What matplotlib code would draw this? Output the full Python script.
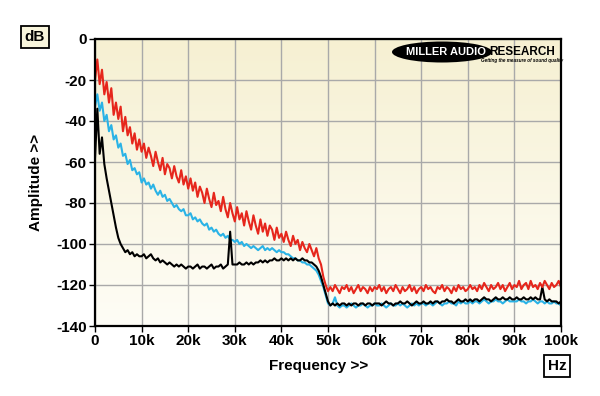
import numpy as np
import matplotlib
matplotlib.use('Agg')
import matplotlib.pyplot as plt
from matplotlib.patches import Ellipse

plt.rcParams['font.family'] = ['Liberation Sans', 'DejaVu Sans']

# frequency grid of the analyser trace, kHz (0.5k steps)
freq_k = np.arange(0, 100.5, 0.5)

red = [
    -20, -10, -22, -15, -27, -21, -31, -24, -37, -31, -39, -33, -45, -38, -47, -43, -51, -46, -54, -49, -55,
    -51, -58, -53, -57, -62, -55, -60, -64, -58, -66, -61, -63, -68, -62, -67, -70, -64, -71, -67, -73,
    -68, -74, -70, -77, -72, -75, -80, -73, -78, -82, -75, -81, -79, -84, -77, -83, -87, -80, -85, -89,
    -82, -88, -85, -91, -84, -89, -93, -86, -91, -95, -88, -94, -90, -96, -91, -93, -98, -92, -97, -95,
    -99, -94, -98, -101, -96, -100, -98, -103, -99, -102, -104, -100, -103, -106, -102, -107, -110, -116, -120, -123,
    -121, -123, -120, -122, -124, -121, -122, -120, -123, -121, -124, -122, -120, -123, -121, -122, -124, -121, -123, -121,
    -122, -120, -123, -121, -124, -122, -121, -123, -120, -122, -124, -121, -123, -122, -120, -123, -121, -124, -122, -121,
    -123, -120, -122, -121, -123, -124, -121, -122, -120, -123, -121, -122, -124, -121, -123, -120, -122, -121, -123, -122,
    -120, -122, -121, -123, -120, -122, -119, -121, -123, -120, -122, -121, -119, -122, -120, -123, -121, -119, -122, -120,
    -121, -118, -122, -120, -119, -122, -118, -121, -120, -122, -119, -121, -118, -120, -122, -119, -121, -120, -118, -121,
]

cyan = [
    -33, -27, -35, -31, -40, -37, -45, -42, -49, -47, -53, -51, -57, -56, -61, -59, -64, -63, -66, -65, -70,
    -68, -71, -70, -73, -71, -74, -76, -74, -77, -76, -79, -78, -80, -82, -81, -83, -84, -83, -86, -86,
    -85, -88, -87, -89, -88, -90, -91, -90, -93, -92, -94, -93, -95, -96, -95, -97, -96, -98, -98, -99,
    -98, -100, -99, -101, -100, -101, -102, -101, -102, -103, -102, -101, -103, -102, -103, -102, -103, -104, -103, -104,
    -104, -105, -105, -106, -107, -107, -108, -108, -109, -109, -110, -110, -111, -112, -113, -115, -118, -121, -125, -129,
    -130, -129, -126, -130, -131, -130, -130, -131, -130, -129, -130, -131, -130, -130, -129, -130, -131, -130, -130, -129,
    -130, -130, -129, -130, -131, -130, -129, -130, -130, -129, -130, -129, -130, -131, -130, -129, -130, -129, -130, -129,
    -129, -130, -129, -129, -130, -129, -128, -129, -130, -129, -129, -128, -129, -129, -130, -128, -129, -128, -129, -129,
    -128, -129, -128, -128, -129, -128, -127, -128, -129, -128, -128, -127, -128, -128, -129, -128, -127, -128, -128, -128,
    -128, -127, -128, -128, -129, -128, -128, -127, -128, -129, -128, -128, -129, -128, -129, -129, -128, -129, -129, -130,
]

black = [
    -58, -34, -56, -48, -61, -68, -74, -80, -86, -92, -97, -100, -102, -104, -103, -105, -104, -106, -105, -106, -106,
    -105, -107, -106, -105, -107, -108, -107, -109, -108, -109, -110, -109, -110, -111, -110, -111, -110, -111, -112, -111,
    -111, -112, -111, -110, -112, -111, -111, -112, -111, -110, -112, -111, -111, -110, -112, -111, -110, -94, -110, -110,
    -110, -109, -110, -110, -109, -110, -109, -110, -109, -109, -108, -109, -108, -109, -108, -108, -107, -108, -108, -107,
    -108, -107, -108, -107, -108, -107, -108, -108, -107, -108, -108, -109, -109, -110, -111, -113, -116, -120, -124, -128,
    -130, -129, -130, -129, -130, -129, -129, -130, -129, -130, -129, -129, -130, -129, -129, -130, -129, -129, -130, -129,
    -129, -129, -130, -129, -128, -129, -129, -130, -129, -129, -128, -129, -129, -128, -129, -130, -129, -128, -129, -129,
    -128, -129, -129, -128, -129, -128, -128, -129, -128, -128, -127, -128, -128, -129, -128, -127, -128, -128, -127, -128,
    -127, -128, -127, -127, -128, -127, -126, -127, -127, -128, -127, -126, -127, -127, -126, -127, -127, -126, -127, -127,
    -126, -127, -127, -126, -127, -127, -126, -127, -126, -127, -127, -121, -127, -128, -127, -128, -128, -128, -129, -128,
]

x_ticks = [0, 10, 20, 30, 40, 50, 60, 70, 80, 90, 100]
x_labels = ['0', '10k', '20k', '30k', '40k', '50k', '60k', '70k', '80k', '90k', '100k']
y_ticks = [0, -20, -40, -60, -80, -100, -120, -140]
y_labels = ['0', '-20', '-40', '-60', '-80', '-100', '-120', '-140']

fig = plt.figure(figsize=(6, 3.96), dpi=100)
fig.patch.set_facecolor('white')
ax = fig.add_axes([95 / 600, 70 / 396, 466 / 600, 287 / 396])

# cream gradient behind the plot
grad = np.linspace(0, 1, 256).reshape(-1, 1)
top_c = np.array([246, 240, 210]) / 255
bot_c = np.array([254, 253, 246]) / 255
img = top_c * (1 - grad[..., None]) + bot_c * grad[..., None]
img = np.repeat(img, 2, axis=1)
ax.imshow(img, extent=[0, 100, -140, 0], aspect='auto', zorder=0)

ax.plot(freq_k, cyan, color='#2ab3e6', lw=1.5, zorder=3)
ax.plot(freq_k, black, color='black', lw=1.5, zorder=4)
ax.plot(freq_k, red, color='#e6261c', lw=1.5, zorder=5)

ax.set_xlim(0, 100)
ax.set_ylim(-140, 0)
ax.set_xticks(x_ticks)
ax.set_xticklabels(x_labels)
ax.set_yticks(y_ticks)
ax.set_yticklabels(y_labels)
ax.grid(color='#a9a9a9', lw=1.0)
for line in ax.get_xgridlines() + ax.get_ygridlines():
    line.set_zorder(1)
ax.tick_params(axis='both', length=4, width=1, pad=2, labelsize=11)
for lab in ax.get_xticklabels() + ax.get_yticklabels():
    lab.set_fontweight('bold')
for s in ax.spines.values():
    s.set_linewidth(1.6)
    s.set_zorder(6)

ax.set_xlabel('Frequency >>', fontsize=11, fontweight='bold')
ax.xaxis.set_label_coords(0.48, -0.115)
ax.set_ylabel('Amplitude >>', fontsize=11, fontweight='bold')
ax.yaxis.set_label_coords(-0.112, 0.5)

# unit boxes
fig.text(35 / 600, 1 - 37 / 396, 'dB', fontsize=11, fontweight='bold', ha='center', va='center',
         bbox=dict(boxstyle='square,pad=0.25', fc='#f8f5dc', ec='black', lw=1.3))
fig.text(557 / 600, 1 - 366 / 396, 'Hz', fontsize=11, fontweight='bold', ha='center', va='center',
         bbox=dict(boxstyle='square,pad=0.25', fc='white', ec='black', lw=1.3))

# logo
logo = Ellipse((442 / 600, 1 - 52 / 396), 100 / 600, 21 / 396, transform=fig.transFigure,
               facecolor='black', edgecolor='none', zorder=10)
fig.patches.append(logo)
fig.text(446 / 600, 1 - 52 / 396, 'MILLER AUDIO', color='white', fontsize=8, fontweight='bold',
         ha='center', va='center', zorder=11)
fig.text(489 / 600, 1 - 52 / 396, 'RESEARCH', color='black', fontsize=8.5, fontweight='bold',
         ha='left', va='center', zorder=11)
fig.text(522 / 600, 1 - 60.5 / 396, 'Getting the measure of sound quality', color='black', fontsize=3.3,
         fontweight='bold', style='italic', ha='center', va='center', zorder=11)

fig.savefig('out.png', dpi=100)
